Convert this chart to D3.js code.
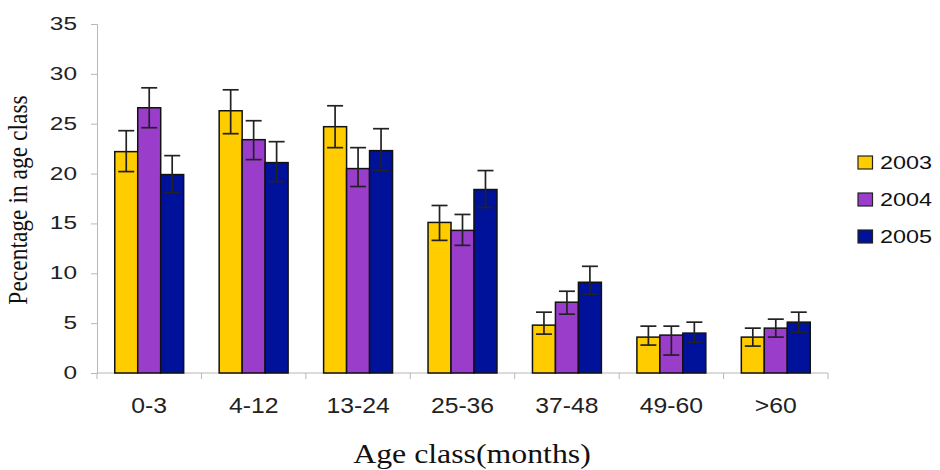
<!DOCTYPE html>
<html><head><meta charset="utf-8">
<script src="https://cdn.jsdelivr.net/npm/d3@7"></script>
<style>body{margin:0;background:#fff}svg{display:block}</style>
</head><body>
<svg id="c" width="940" height="470"></svg>
<script>
const categories = ["0-3","4-12","13-24","25-36","37-48","49-60",">60"];
const seriesNames = ["2003","2004","2005"];
const colors = ["#FFCC00","#9B3DCB","#001299"];
const values2003 = [22.2, 26.3, 24.7, 15.1, 4.8, 3.6, 3.6];
const values2004 = [26.6, 23.4, 20.5, 14.3, 7.1, 3.8, 4.5];
const values2005 = [19.9, 21.1, 22.3, 18.4, 9.1, 4.0, 5.1];
const errUp2003 = [2.1, 2.1, 2.1, 1.7, 1.3, 1.1, 0.9];
const errDn2003 = [2.0, 2.3, 2.1, 1.8, 0.9, 0.8, 0.9];
const errUp2004 = [2.0, 1.9, 2.1, 1.6, 1.1, 0.9, 0.9];
const errDn2004 = [2.0, 2.0, 1.8, 1.5, 1.2, 2.0, 0.9];
const errUp2005 = [1.9, 2.1, 2.2, 1.9, 1.6, 1.1, 1.0];
const errDn2005 = [1.8, 1.9, 2.0, 1.8, 1.2, 0.9, 1.0];
const yTicks = [0,5,10,15,20,25,30,35];

(function(){
const values = [values2003, values2004, values2005];
const errUp = [errUp2003, errUp2004, errUp2005];
const errDn = [errDn2003, errDn2004, errDn2005];

const svg = d3.select("#c");
const mLeft = 97, mRight = 828, mTop = 24, mBottom = 373;
const sans = "Liberation Sans, Arial, sans-serif";
const serif = "Liberation Serif, Times New Roman, serif";

const x = d3.scaleBand().domain(categories).range([mLeft, mRight]).paddingInner(0.34).paddingOuter(0.17);
const xs = d3.scaleBand().domain(seriesNames).range([0, x.bandwidth()]);
const y = d3.scaleLinear().domain([0, 35]).range([mBottom, mTop]);
const xOuter = d3.scaleBand().domain(categories).range([mLeft, mRight]);

const axisColor = "#b8b8b8";
const yAxis = svg.append("g").attr("transform", `translate(${mLeft},0)`)
  .call(d3.axisLeft(y).tickValues(yTicks).tickSize(6).tickPadding(14));
yAxis.select(".domain").attr("stroke", axisColor);
yAxis.selectAll(".tick line").attr("stroke", axisColor);
yAxis.selectAll(".tick text").attr("font-family", sans).attr("font-size", 18.5).attr("fill","#222")
  .attr("x", 0).attr("dy", "0.3em").attr("transform", "translate(-20,0) scale(1.32,1)");

const xAxis = svg.append("g").attr("transform", `translate(0,${mBottom})`)
  .call(d3.axisBottom(xOuter).tickSize(0).tickPadding(25));
xAxis.select(".domain").attr("stroke", axisColor).attr("d", `M${mLeft},0H${mRight}`);
xAxis.selectAll(".tick text").attr("font-family", sans).attr("font-size", 21.5).attr("fill","#222")
  .attr("transform", "scale(1.15,1)");
const bounds = categories.map(c => xOuter(c)).concat([mRight]);
svg.append("g").selectAll("line").data(bounds).join("line")
  .attr("x1", d => d).attr("x2", d => d).attr("y1", mBottom).attr("y2", mBottom + 6)
  .attr("stroke", axisColor);

const g = svg.append("g");
seriesNames.forEach((s, si) => {
  g.append("g").selectAll("rect").data(categories).join("rect")
    .attr("x", (c) => x(c) + xs(s))
    .attr("y", (c, i) => y(values[si][i]))
    .attr("width", xs.bandwidth())
    .attr("height", (c, i) => y(0) - y(values[si][i]))
    .attr("fill", colors[si]).attr("stroke", "#111").attr("stroke-width", 1.5);
});
const cap = 8;
seriesNames.forEach((s, si) => {
  const eg = g.append("g").attr("stroke", "#222").attr("stroke-width", 1.7).attr("fill","none");
  categories.forEach((c, i) => {
    const cx = x(c) + xs(s) + xs.bandwidth() / 2;
    const yt = y(values[si][i] + errUp[si][i]);
    const yb = y(values[si][i] - errDn[si][i]);
    eg.append("line").attr("x1", cx).attr("x2", cx).attr("y1", yt).attr("y2", yb);
    eg.append("line").attr("x1", cx - cap).attr("x2", cx + cap).attr("y1", yt).attr("y2", yt);
    eg.append("line").attr("x1", cx - cap).attr("x2", cx + cap).attr("y1", yb).attr("y2", yb);
  });
});

const lg = svg.append("g").attr("transform", "translate(858,156)");
seriesNames.forEach((s, i) => {
  const r = lg.append("g").attr("transform", `translate(0,${i * 37})`);
  r.append("rect").attr("width", 14.5).attr("height", 13).attr("fill", colors[i]).attr("stroke", "#222").attr("stroke-width", 1.2);
  r.append("text").attr("transform", "translate(22,12.5) scale(1.3,1)").text(s)
    .attr("font-family", sans).attr("font-size", 18).attr("fill","#111");
});

svg.append("text").attr("transform", "translate(472,463) scale(1.2,1)").attr("text-anchor","middle")
  .attr("font-family", serif).attr("font-size", 26.5).attr("fill","#111")
  .text("Age class(months)");
svg.append("text").attr("transform", "translate(27,200) rotate(-90) scale(1,1.15)").attr("text-anchor","middle")
  .attr("font-family", serif).attr("font-size", 23.5).attr("fill","#111")
  .text("Pecentage  in age class");
})();
</script>
</body></html>
